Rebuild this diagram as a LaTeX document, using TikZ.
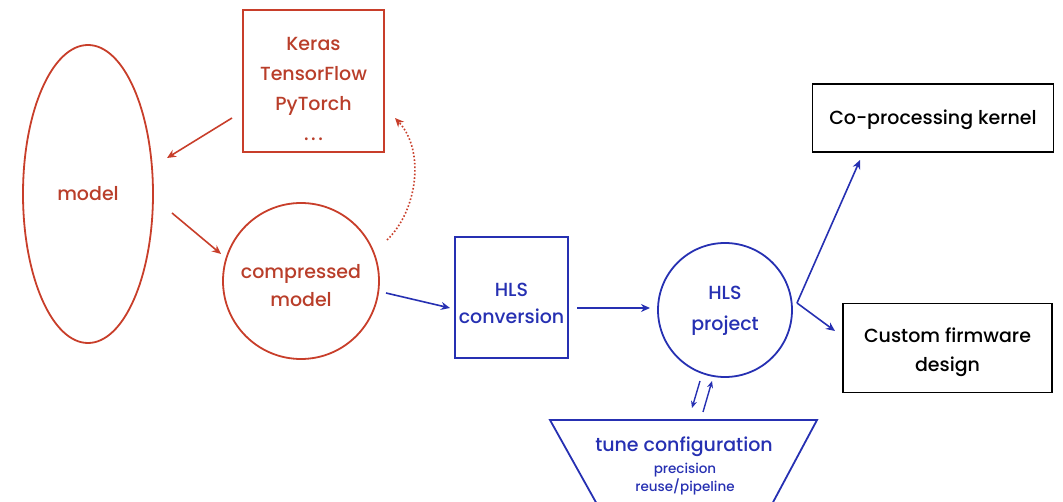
\documentclass[tikz,border=0pt]{standalone}
\usepackage{fontspec}
\setmainfont{Poppins}[UprightFont=* Medium]
\usetikzlibrary{arrows.meta,shapes.geometric}
\definecolor{myred}{RGB}{200,62,42}
\definecolor{myredtext}{RGB}{185,62,42}
\definecolor{myblue}{RGB}{38,48,178}
\tikzset{
  redshape/.style={draw=myred, line width=1.8pt, inner sep=0pt},
  blueshape/.style={draw=myblue, line width=1.8pt, inner sep=0pt},
  blackbox/.style={draw=black, line width=1.8pt, inner sep=0pt},
  redtext/.style={text=myredtext, align=center, inner sep=0pt},
  bluetext/.style={text=myblue, align=center, inner sep=0pt},
  blacktext/.style={text=black, align=center, inner sep=0pt},
  redarrow/.style={draw=myred, line width=1.6pt, -{Stealth[length=9pt,width=8pt]}},
  bluearrow/.style={draw=myblue, line width=1.6pt, -{Stealth[length=9pt,width=8pt]}},
}
\newcommand{\fs}[1]{\fontsize{19}{#1}\selectfont}
\begin{document}
\begin{tikzpicture}[x=1pt,y=-1pt]
\useasboundingbox (0,0) rectangle (1063,502);
\begin{scope}
\clip (0,0) rectangle (1063,502);
% model ellipse
\node[redshape, ellipse, minimum width=130pt, minimum height=298pt] (model) at (88,194) {};
\node[redtext, font=\fs{27}] (modelt) at (88,194) {model};
% frameworks box
\node[redshape, minimum width=141pt, minimum height=142pt] (fw) at (313.5,81) {};
\node[redtext, font=\fs{30}] (fwt) at (313.5,89) {Keras\\TensorFlow\\PyTorch\\.\hspace{2.5pt}.\hspace{2.5pt}.};
% compressed model circle
\node[redshape, circle, minimum size=156pt] (cm) at (301,281) {};
\node[redtext, font=\fs{28}] (cmt) at (301,286) {compressed\\model};
% HLS conversion box
\node[blueshape, minimum width=113pt, minimum height=121pt] (conv) at (511.5,297.5) {};
\node[bluetext, font=\fs{27}] (convt) at (511.5,303.5) {HLS\\conversion};
% HLS project circle
\node[blueshape, circle, minimum size=134pt] (proj) at (725,310) {};
\node[bluetext, font=\fs{31}] (projt) at (725,311) {HLS\\project};
% output boxes
\node[blackbox, minimum width=241pt, minimum height=68pt] (cpk) at (933,118) {};
\node[blacktext, font=\fs{27}] (cpkt) at (933,120) {Co-processing kernel};
\node[blackbox, minimum width=209pt, minimum height=89pt] (cfd) at (947.5,348) {};
\node[blacktext, font=\fs{29}] (cfdt) at (947.5,352) {Custom firmware\\design};
% tune configuration trapezoid
\coordinate (tTL) at (550,420);
\coordinate (tTR) at (817,420);
\coordinate (tBL) at (598,506);
\coordinate (tBR) at (771,506);
\draw[myblue, line width=1.8pt, line join=miter] (tBL) -- (tTL) -- (tTR) -- (tBR);
\node[bluetext, font=\fs{27}] (tune) at (684,447) {tune configuration};
\node[bluetext, font=\fontsize{13.5}{18}\selectfont] (tunesub) at (685,479) {precision\\reuse/pipeline};
\end{scope}
% arrows
\coordinate (a1s) at (232,118);
\coordinate (a1e) at (167,158);
\draw[redarrow] (a1s) -- (a1e);
\coordinate (a2s) at (172,213);
\coordinate (a2e) at (221,254);
\draw[redarrow] (a2s) -- (a2e);
\coordinate (a3s) at (387,240);
\coordinate (a3e) at (395,118);
\draw[draw=myred, line width=1.6pt, dotted, -{Stealth[length=9pt,width=8pt]}] (a3s) .. controls (418,210) and (425,150) .. (a3e);
\coordinate (b1s) at (386,293);
\coordinate (b1e) at (450,308);
\draw[bluearrow] (b1s) -- (b1e);
\coordinate (b2s) at (577,308);
\coordinate (b2e) at (650,308);
\draw[bluearrow] (b2s) -- (b2e);
\coordinate (vx) at (797,303);
\coordinate (cpkin) at (860,160);
\coordinate (cfdin) at (835,331);
\draw[bluearrow] (vx) -- (cpkin);
\draw[bluearrow] (vx) -- (cfdin);
\coordinate (d1s) at (700,381);
\coordinate (d1e) at (692,408);
\draw[bluearrow, line width=1.4pt, -{Stealth[length=7pt,width=6pt]}] (d1s) -- (d1e);
\coordinate (u1s) at (703,412);
\coordinate (u1e) at (712,381);
\draw[bluearrow, line width=1.4pt, -{Stealth[length=7pt,width=6pt]}] (u1s) -- (u1e);
\end{tikzpicture}
\end{document}
